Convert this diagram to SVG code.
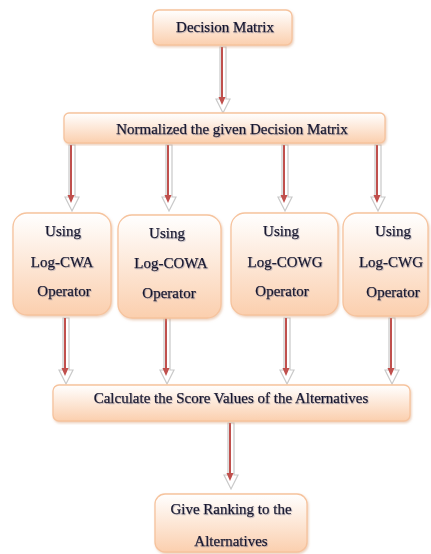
<svg xmlns="http://www.w3.org/2000/svg" width="431" height="554" viewBox="0 0 431 554">
<defs>
<linearGradient id="g" x1="0" y1="0" x2="0" y2="1">
<stop offset="0" stop-color="#ffffff"/>
<stop offset="1" stop-color="#fbcfae"/>
</linearGradient>
<filter id="sh" x="-5%" y="-5%" width="110%" height="115%">
<feDropShadow dx="1" dy="1.5" stdDeviation="1" flood-color="#d9a27a" flood-opacity="0.5"/>
</filter>
<filter id="ts" x="-5%" y="-20%" width="110%" height="140%">
<feDropShadow dx="0.8" dy="0.8" stdDeviation="0.4" flood-color="#6a6a8a" flood-opacity="0.45"/>
</filter>
</defs>
<style>
.box{fill:url(#g);stroke:#f6c39d;stroke-width:1.3;filter:url(#sh)}
.t{font-family:"Liberation Serif","Times New Roman",serif;font-size:15px;fill:#14142e;stroke:#14142e;stroke-width:0.25;text-anchor:middle;filter:url(#ts)}
.sh{stroke:#c9c9c9;stroke-width:1.2;fill:#fff}
.red{stroke:#c0504d;stroke-width:2;fill:none}
.rh{fill:#c0504d}
</style>
<g id="connectors">
<g transform="translate(222,47)">
<path class="sh" d="M-2,0 H4 V52 H8 L1,66 L-6,52 H-2 Z"/>
<line class="red" x1="0" y1="0" x2="0" y2="52"/>
<path class="rh" d="M-3.5,50 H3.5 L0,58 Z"/>
</g>
<g transform="translate(71,145)">
<path class="sh" d="M-2,0 H4 V52 H8 L1,66 L-6,52 H-2 Z"/>
<line class="red" x1="0" y1="0" x2="0" y2="52"/>
<path class="rh" d="M-3.5,50 H3.5 L0,58 Z"/>
</g>
<g transform="translate(168,145)">
<path class="sh" d="M-2,0 H4 V52 H8 L1,66 L-6,52 H-2 Z"/>
<line class="red" x1="0" y1="0" x2="0" y2="52"/>
<path class="rh" d="M-3.5,50 H3.5 L0,58 Z"/>
</g>
<g transform="translate(284,145)">
<path class="sh" d="M-2,0 H4 V52 H8 L1,66 L-6,52 H-2 Z"/>
<line class="red" x1="0" y1="0" x2="0" y2="52"/>
<path class="rh" d="M-3.5,50 H3.5 L0,58 Z"/>
</g>
<g transform="translate(377,145)">
<path class="sh" d="M-2,0 H4 V52 H8 L1,66 L-6,52 H-2 Z"/>
<line class="red" x1="0" y1="0" x2="0" y2="52"/>
<path class="rh" d="M-3.5,50 H3.5 L0,58 Z"/>
</g>
<g transform="translate(65,318)">
<path class="sh" d="M-2,0 H4 V52 H8 L1,66 L-6,52 H-2 Z"/>
<line class="red" x1="0" y1="0" x2="0" y2="52"/>
<path class="rh" d="M-3.5,50 H3.5 L0,58 Z"/>
</g>
<g transform="translate(166,318)">
<path class="sh" d="M-2,0 H4 V52 H8 L1,66 L-6,52 H-2 Z"/>
<line class="red" x1="0" y1="0" x2="0" y2="52"/>
<path class="rh" d="M-3.5,50 H3.5 L0,58 Z"/>
</g>
<g transform="translate(286,318)">
<path class="sh" d="M-2,0 H4 V52 H8 L1,66 L-6,52 H-2 Z"/>
<line class="red" x1="0" y1="0" x2="0" y2="52"/>
<path class="rh" d="M-3.5,50 H3.5 L0,58 Z"/>
</g>
<g transform="translate(391,318)">
<path class="sh" d="M-2,0 H4 V52 H8 L1,66 L-6,52 H-2 Z"/>
<line class="red" x1="0" y1="0" x2="0" y2="52"/>
<path class="rh" d="M-3.5,50 H3.5 L0,58 Z"/>
</g>
<g transform="translate(230,423)">
<path class="sh" d="M-2,0 H4 V52 H8 L1,66 L-6,52 H-2 Z"/>
<line class="red" x1="0" y1="0" x2="0" y2="52"/>
<path class="rh" d="M-3.5,50 H3.5 L0,58 Z"/>
</g>
</g>
<g id="decision-matrix">
<rect class="box" x="153" y="10" width="139" height="35" rx="6"/>
<text class="t" x="225" y="32">Decision Matrix</text>
</g>
<g id="normalized">
<rect class="box" x="64" y="113" width="321" height="30" rx="5"/>
<text class="t" x="232" y="134">Normalized the given Decision Matrix</text>
</g>
<g id="log-cwa">
<rect class="box" x="13" y="213" width="98" height="102" rx="14"/>
<text class="t" x="63" y="236">Using</text>
<text class="t" x="62" y="267">Log-CWA</text>
<text class="t" x="64" y="296">Operator</text>
</g>
<g id="log-cowa">
<rect class="box" x="118" y="215" width="103" height="103" rx="14"/>
<text class="t" x="167" y="238">Using</text>
<text class="t" x="171" y="268">Log-COWA</text>
<text class="t" x="169" y="298">Operator</text>
</g>
<g id="log-cowg">
<rect class="box" x="231" y="213" width="107" height="102" rx="14"/>
<text class="t" x="281" y="236">Using</text>
<text class="t" x="285" y="267">Log-COWG</text>
<text class="t" x="282" y="296">Operator</text>
</g>
<g id="log-cwg">
<rect class="box" x="343" y="213" width="85" height="103" rx="14"/>
<text class="t" x="393" y="236">Using</text>
<text class="t" x="391" y="267">Log-CWG</text>
<text class="t" x="393" y="297">Operator</text>
</g>
<g id="score">
<rect class="box" x="53" y="385" width="357" height="36" rx="6"/>
<text class="t" x="231" y="403">Calculate the Score Values of the Alternatives</text>
</g>
<g id="ranking">
<rect class="box" x="155" y="494" width="152" height="58" rx="10"/>
<text class="t" x="231" y="514">Give Ranking to the</text>
<text class="t" x="231" y="546">Alternatives</text>
</g>
</svg>
